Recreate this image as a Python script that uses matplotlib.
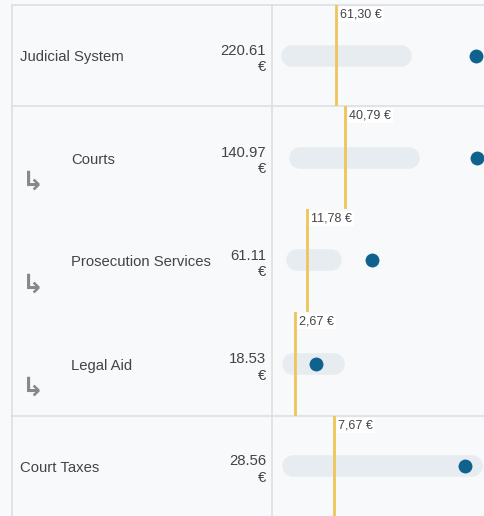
"""Judicial budget per capita — table with range bars, value dots and reference lines."""

import matplotlib

matplotlib.use("Agg")
import matplotlib.pyplot as plt
from matplotlib.transforms import blended_transform_factory

plt.rcParams["font.family"] = ["Liberation Sans", "DejaVu Sans"]

# data
labels = ["Judicial System", "Courts", "Prosecution Services", "Legal Aid", "Court Taxes"]
values = [220.61, 140.97, 61.11, 18.53, 28.56]
references = [61.30, 40.79, 11.78, 2.67, 7.67]
range_lo = [11.8, 6.8, 3.8, 0.8, 1.05]
range_hi = [134.7, 89.5, 29.6, 31.9, 29.6]
is_child = [False, True, True, True, False]

# layout (pixels, figure 484 x 516)
W, H = 484, 516
row_edges = [5, 106, 209, 312, 416, 516]
x_left, x_div = 12, 272
axis_limits = [(-11.5, 229.7), (-14.8, 146.1), (-14.8, 146.1), (-14.8, 146.1), (-2.22, 31.59)]

BG = "#f8f9fa"
GRID = "#dddfe2"
BAR = "#e6ecef"
DOT = "#10628e"
REF = "#efc55a"
TXT = "#444444"

fig = plt.figure(figsize=(W / 100, H / 100), dpi=100, facecolor=BG)

# table frame in pixel coordinates
frame = fig.add_axes([0, 0, 1, 1])
frame.set_xlim(0, W)
frame.set_ylim(H, 0)
frame.axis("off")
frame.plot([x_left, x_left], [row_edges[0], H], color=GRID, lw=1.2)
frame.plot([x_div, x_div], [row_edges[0], H], color=GRID, lw=1.2)
for y in (row_edges[0], row_edges[1], row_edges[4]):
    frame.plot([x_left, W], [y, y], color=GRID, lw=1.2)

for i, label in enumerate(labels):
    top, bottom = row_edges[i], row_edges[i + 1]
    yc = (top + bottom) / 2

    # left cells
    tx = 71 if is_child[i] else 20
    frame.text(tx, yc + 2, label, ha="left", va="center", fontsize=10.7, color=TXT)
    frame.text(266, yc + 3.5, f"{values[i]:.2f}\n€", ha="right", va="center",
               multialignment="right", fontsize=10.7, color=TXT, linespacing=1.2)
    if is_child[i]:
        frame.text(33, yc + 25, "↳", ha="center", va="center", fontsize=19,
                   fontweight="bold", color="#888888", family="DejaVu Sans")

    # right cell: one axis per row
    ax = fig.add_axes([x_div / W, 1 - bottom / H, (W - x_div) / W, (bottom - top) / H])
    ax.set_xlim(*axis_limits[i])
    ax.set_ylim(-0.5, 0.5)
    ax.axis("off")
    ax.patch.set_alpha(0)

    ax.plot([range_lo[i], range_hi[i]], [0, 0], color=BAR, lw=15.5,
            solid_capstyle="round", zorder=1)
    ax.axvline(references[i], color=REF, lw=2, zorder=2)
    ax.scatter([values[i]], [0], s=100, color=DOT, zorder=3, linewidths=0)

    trans = blended_transform_factory(ax.transData, ax.transAxes)
    ax.annotate(f"{references[i]:.2f} €".replace(".", ","),
                xy=(references[i], 1), xycoords=trans,
                xytext=(3, -2.5), textcoords="offset points",
                ha="left", va="top", fontsize=9, color=TXT, zorder=4,
                bbox=dict(boxstyle="square,pad=0.15", fc="white", ec="none"))

fig.savefig("out.png", dpi=100, facecolor=BG)
